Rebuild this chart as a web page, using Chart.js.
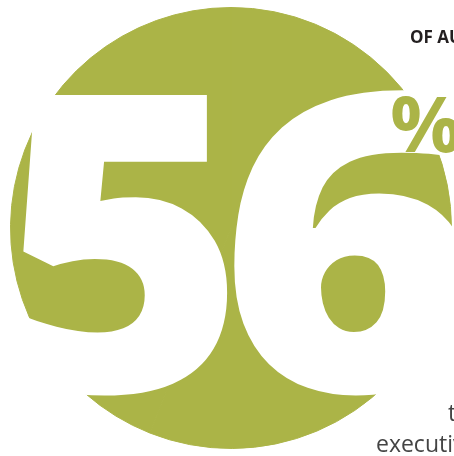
<!DOCTYPE html>
<html>
<head>
<meta charset="utf-8">
<script src="https://cdn.jsdelivr.net/npm/chart.js@4.4.0/dist/chart.umd.min.js"></script>
<style>
  html, body { margin: 0; padding: 0; background: #fff; }
  #wrap { width: 454px; height: 456px; position: relative; overflow: hidden; }
</style>
</head>
<body>
<div id="wrap"><canvas id="chart"></canvas></div>
<script>
// one statistic, shown as a full disc with the number on top
const statLabels = ['Share', 'Rest'];
const statValues = [56, 44];
const statText = '56';
const headline = 'OF AUSTRALIAN';
const bodyLines = ['t', 'executives'];

const GREEN = '#abb447';

// fit a glyph into a box (left, top, width, height)
function fitGlyph(ctx, ch, font, box, color) {
    ctx.save();
    ctx.font = font;
    ctx.textBaseline = 'alphabetic';
    ctx.textAlign = 'left';
    const m = ctx.measureText(ch);
    const w = m.actualBoundingBoxLeft + m.actualBoundingBoxRight;
    const h = m.actualBoundingBoxAscent + m.actualBoundingBoxDescent;
    ctx.translate(box[0], box[1]);
    ctx.scale(box[2] / w, box[3] / h);
    ctx.fillStyle = color;
    ctx.fillText(ch, m.actualBoundingBoxLeft, m.actualBoundingBoxAscent);
    ctx.restore();
}

const bigNumber = {
    id: 'bigNumber',
    afterDraw(chart) {
        const ctx = chart.ctx;
        const big = '800 400px "Open Sans"';
        fitGlyph(ctx, statText[0], big, [12, 93, 218, 305], '#fff');
        fitGlyph(ctx, statText[1], big, [233, 86, 240, 312], '#fff');
        fitGlyph(ctx, '%', 'bold 80px "Open Sans"', [392, 95, 68, 58], GREEN);

        ctx.save();
        ctx.fillStyle = '#231f20';
        ctx.font = 'bold 17px "Open Sans"';
        ctx.fillText(headline, 410, 43);
        ctx.fillStyle = '#444';
        ctx.font = '23px "Open Sans"';
        ctx.fillText(bodyLines[0], 448, 421);
        ctx.fillText(bodyLines[1], 376, 452);
        ctx.restore();
    }
};

new Chart(document.getElementById('chart'), {
    type: 'pie',
    data: {
        labels: statLabels,
        datasets: [{
            data: statValues,
            backgroundColor: [GREEN, GREEN],
            borderColor: GREEN,
            borderWidth: 1,
        }],
    },
    options: {
        responsive: true,
        maintainAspectRatio: false,
        animation: false,
        layout: { padding: { left: 10, right: 2, top: 7, bottom: 7 } },
        plugins: {
            legend: { display: false },
            tooltip: { enabled: false },
        },
    },
    plugins: [bigNumber],
});
</script>
</body>
</html>
